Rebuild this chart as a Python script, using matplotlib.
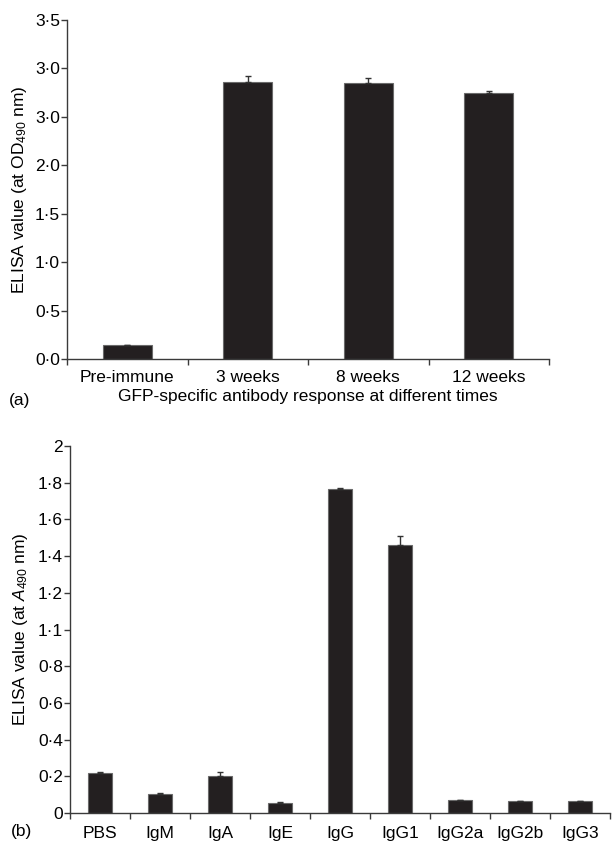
import matplotlib
matplotlib.use("Agg")
import matplotlib.pyplot as plt
import numpy as np

plt.rcParams['font.family'] = ['Liberation Sans', 'DejaVu Sans']
plt.rcParams['mathtext.fontset'] = 'custom'
plt.rcParams['mathtext.rm'] = 'Liberation Sans'
plt.rcParams['mathtext.it'] = 'Liberation Sans:italic'

# ---- data (a)
times = ['Pre-immune', '3 weeks', '8 weeks', '12 weeks']
od_values = [0.14, 2.86, 2.85, 2.75]
od_errors = [0.0, 0.06, 0.05, 0.015]
yticks_a = [0.0, 0.5, 1.0, 1.5, 2.0, 2.5, 3.0, 3.5]
yticklabels_a = ['0·0', '0·5', '1·0', '1·5', '2·0', '3·0', '3·0', '3·5']

# ---- data (b)
isotypes = ['PBS', 'IgM', 'IgA', 'IgE', 'IgG', 'IgG1', 'IgG2a', 'IgG2b', 'IgG3']
a_values = [0.216, 0.103, 0.204, 0.054, 1.766, 1.46, 0.072, 0.067, 0.063]
a_errors = [0.007, 0.004, 0.018, 0.006, 0.004, 0.047, 0.0, 0.0, 0.0]
yticks_b = [0.0, 0.2, 0.4, 0.6, 0.8, 1.0, 1.2, 1.4, 1.6, 1.8, 2.0]
yticklabels_b = ['0', '0·2', '0·4', '0·6', '0·8', '1·1', '1·2', '1·4', '1·6', '1·8', '2']

W, H = 613, 847
fig = plt.figure(figsize=(W/100, H/100), dpi=100)

bar_color = '#231f20'
edge_color = '#6a6a6a'
spine_color = '#3a3a3a'
fs = 12.5

def style(ax, n, yt, ytl, ylim):
    for s in ['top', 'right']:
        ax.spines[s].set_visible(False)
    for s in ['left', 'bottom']:
        ax.spines[s].set_color(spine_color)
        ax.spines[s].set_linewidth(1.0)
    ax.set_xlim(-0.5, n - 0.5)
    ax.set_ylim(*ylim)
    ax.set_yticks(yt)
    ax.set_yticklabels(ytl, fontsize=fs)
    ax.set_xticks(np.arange(-0.5, n, 1.0))
    ax.set_xticklabels([])
    ax.tick_params(axis='both', which='major', direction='out', length=4,
                   width=1.0, color=spine_color)
    ax.tick_params(axis='y', pad=1)

# ---- (a)
ax1 = fig.add_axes([67/W, 1-359/H, (549-67)/W, (359-20)/H])
x1 = np.arange(len(times))
ax1.bar(x1, od_values, width=0.41, color=bar_color, edgecolor=edge_color,
        linewidth=0.8, zorder=2)
ax1.errorbar(x1, od_values, yerr=[np.zeros(len(od_errors)), od_errors], fmt='none',
             ecolor='#333333', elinewidth=1.0, capsize=2.5, capthick=1.0, zorder=3)
style(ax1, len(times), yticks_a, yticklabels_a, (0, 3.5))
ax1.set_xticks(x1, minor=True)
ax1.set_xticklabels(times, minor=True, fontsize=fs)
ax1.tick_params(axis='x', which='minor', length=0, pad=8)
ax1.set_xlabel('GFP-specific antibody response at different times', fontsize=fs, labelpad=3)
ax1.set_ylabel('ELISA value (at OD$_{490}$ nm)', fontsize=fs, labelpad=4)
fig.text(20/W, 1-400/H, '(a)', fontsize=fs, ha='center', va='center')

# ---- (b)
ax2 = fig.add_axes([70/W, 1-813/H, 540/W, (813-446)/H])
x2 = np.arange(len(isotypes))
ax2.bar(x2, a_values, width=0.40, color=bar_color, edgecolor=edge_color,
        linewidth=0.8, zorder=2)
ax2.errorbar(x2, a_values, yerr=[np.zeros(len(a_errors)), a_errors], fmt='none',
             ecolor='#333333', elinewidth=1.0, capsize=2.0, capthick=1.0, zorder=3)
style(ax2, len(isotypes), yticks_b, yticklabels_b, (0, 2.0))
ax2.set_xticks(x2, minor=True)
ax2.set_xticklabels(isotypes, minor=True, fontsize=fs)
ax2.tick_params(axis='x', which='minor', length=0, pad=9)
ax2.set_ylabel('ELISA value (at $\\mathit{A}_{490}$ nm)', fontsize=fs, labelpad=6)
fig.text(22/W, 1-831/H, '(b)', fontsize=fs, ha='center', va='center')

fig.savefig('out.png', dpi=100)
